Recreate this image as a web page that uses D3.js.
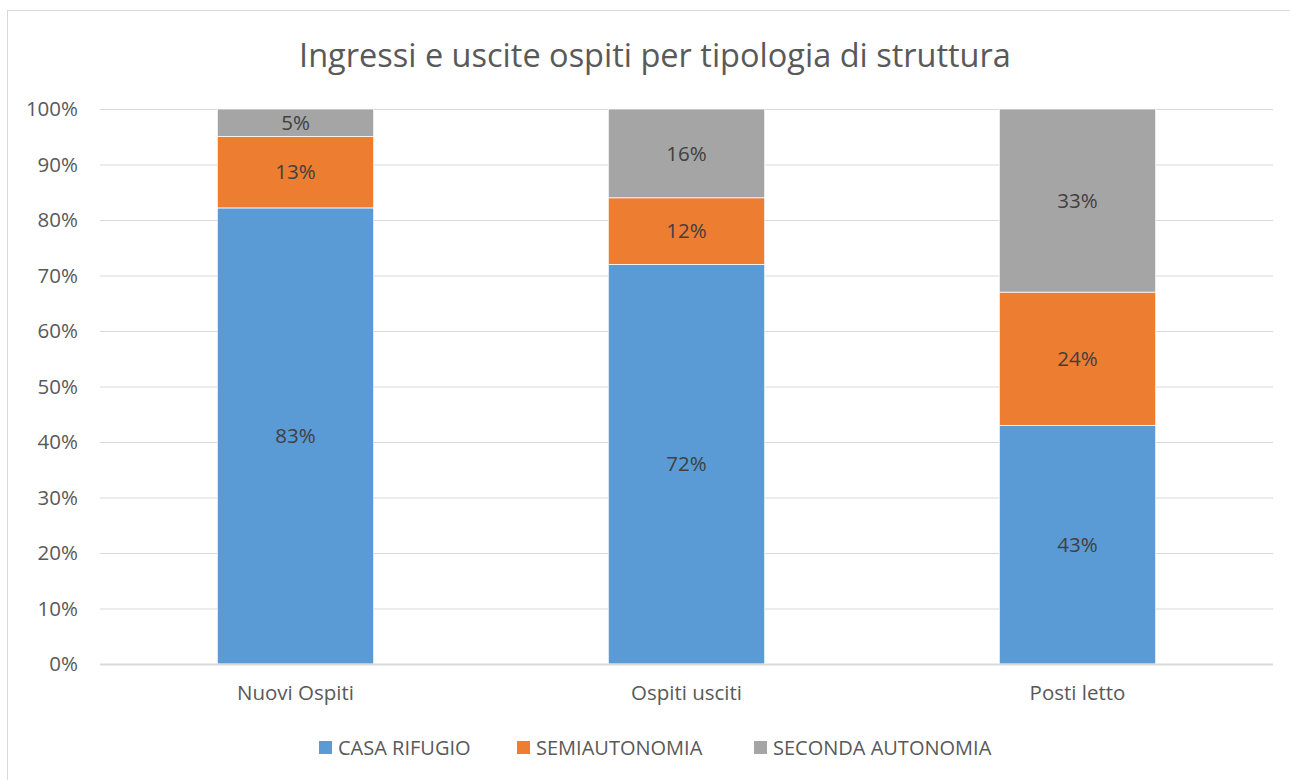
<!DOCTYPE html>
<html>
<head>
<meta charset="utf-8">
<script src="https://cdn.jsdelivr.net/npm/d3@7"></script>
<style>
  body { margin: 0; background: #fff; }
  svg text { font-family: "Open Sans", "Noto Sans", sans-serif; }
</style>
</head>
<body>
<svg id="chart" width="1290" height="780"></svg>
<script>
// data (Excel 100% stacked: values normalised per column)
const categories = ['Nuovi Ospiti', 'Ospiti usciti', 'Posti letto'];
const seriesNames = ['CASA RIFUGIO', 'SEMIAUTONOMIA', 'SECONDA AUTONOMIA'];
const casaRifugio = [83, 72, 43];
const semiautonomia = [13, 12, 24];
const secondaAutonomia = [5, 16, 33];
const yTicks = [0, 0.1, 0.2, 0.3, 0.4, 0.5, 0.6, 0.7, 0.8, 0.9, 1];
const colors = ['#5B9BD5', '#ED7D31', '#A5A5A5'];

const svg = d3.select('#chart');

// outer chart border
svg.append('rect')
    .attr('x', 7.5).attr('y', 10.5)
    .attr('width', 1290).attr('height', 780)
    .attr('fill', 'none').attr('stroke', '#d9d9d9');

const margin = { left: 100, right: 17, top: 109, bottom: 116 };
const width = 1290 - margin.left - margin.right;
const height = 780 - margin.top - margin.bottom;

const g = svg.append('g').attr('transform', `translate(${margin.left},${margin.top})`);

const rows = categories.map((c, i) => ({
    cat: c,
    'CASA RIFUGIO': casaRifugio[i],
    'SEMIAUTONOMIA': semiautonomia[i],
    'SECONDA AUTONOMIA': secondaAutonomia[i]
}));

const stacked = d3.stack().keys(seriesNames).offset(d3.stackOffsetExpand)(rows);

const x = d3.scaleBand().domain(categories).range([0, width]).paddingInner(0.6).paddingOuter(0.3);
const y = d3.scaleLinear().domain([0, 1]).range([height, 0]);

// gridlines
const yAxis = d3.axisLeft(y).tickValues(yTicks).tickSize(-width).tickFormat(d3.format('.0%'));
g.append('g').attr('class', 'y-axis').call(yAxis)
    .call(a => a.select('.domain').remove())
    .call(a => a.selectAll('line').attr('stroke', '#d9d9d9').attr('stroke-width', 1))
    .call(a => a.selectAll('text').attr('x', -22).attr('fill', '#595959').style('font-size', '20.5px'));

// bars
const layer = g.selectAll('.layer')
    .data(stacked)
    .join('g')
    .attr('class', 'layer')
    .attr('fill', (d, i) => colors[i]);

layer.selectAll('rect')
    .data(d => d.map(p => ({ p, key: d.key })))
    .join('rect')
    .attr('x', d => x(d.p.data.cat))
    .attr('y', d => y(d.p[1]))
    .attr('width', x.bandwidth())
    .attr('height', d => y(d.p[0]) - y(d.p[1]))
    .attr('stroke', '#fff')
    .attr('stroke-width', 0.75);

// value labels
layer.selectAll('text')
    .data(d => d.map(p => ({ p, key: d.key })))
    .join('text')
    .attr('x', d => x(d.p.data.cat) + x.bandwidth() / 2)
    .attr('y', d => (y(d.p[0]) + y(d.p[1])) / 2)
    .attr('dy', '0.35em')
    .attr('text-anchor', 'middle')
    .attr('fill', '#404040')
    .style('font-size', '20.5px')
    .text(d => d.p.data[d.key] + '%');

// baseline
g.append('line')
    .attr('x1', 0).attr('x2', width)
    .attr('y1', height + 0.5).attr('y2', height + 0.5)
    .attr('stroke', '#d9d9d9').attr('stroke-width', 2);

// x labels
const xAxis = d3.axisBottom(x).tickSize(0);
g.append('g').attr('class', 'x-axis')
    .attr('transform', `translate(0,${height})`)
    .call(xAxis)
    .call(a => a.select('.domain').remove())
    .call(a => a.selectAll('text').attr('dy', '1.6em').attr('fill', '#595959').style('font-size', '20.5px'));

// title
svg.append('text')
    .attr('x', 655).attr('y', 67)
    .attr('text-anchor', 'middle')
    .attr('fill', '#595959')
    .style('font-size', '32.5px')
    .text('Ingressi e uscite ospiti per tipologia di struttura');

// legend
const legendX = [319, 517, 754];
const legend = svg.append('g').attr('transform', 'translate(0,748)');
const items = legend.selectAll('g')
    .data(seriesNames)
    .join('g')
    .attr('transform', (d, i) => `translate(${legendX[i]},0)`);
items.append('rect')
    .attr('x', 0).attr('y', -7).attr('width', 13).attr('height', 13)
    .attr('fill', (d, i) => colors[i]);
items.append('text')
    .attr('x', 19).attr('dy', '0.35em')
    .attr('fill', '#595959')
    .style('font-size', '20px')
    .text(d => d);
</script>
</body>
</html>
